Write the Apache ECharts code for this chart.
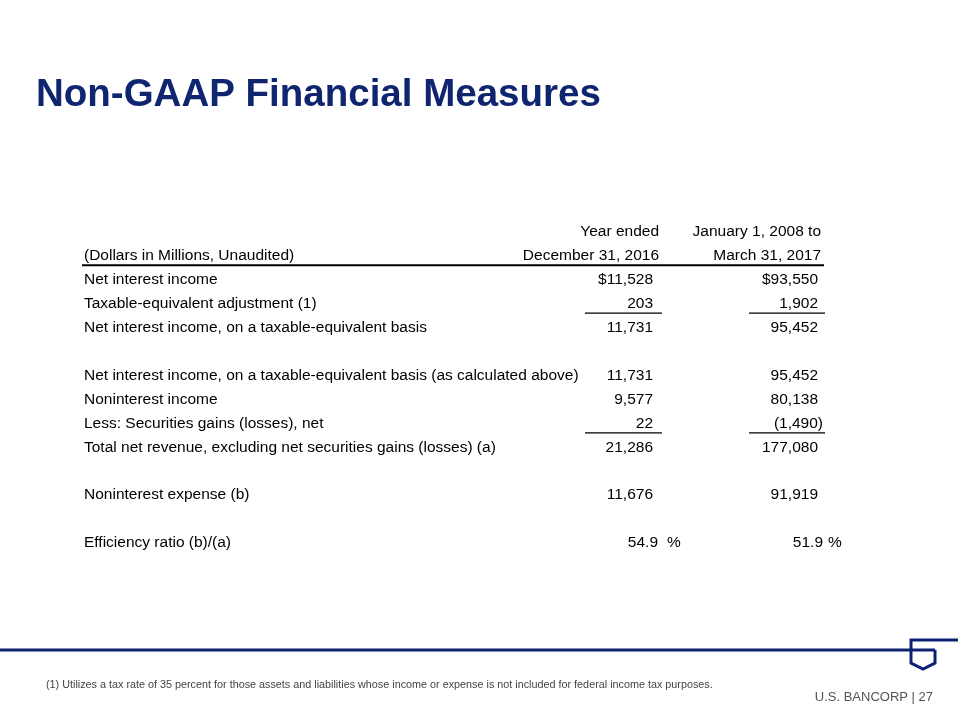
<!DOCTYPE html>
<html>
<head>
<meta charset="utf-8">
<script src="https://cdn.jsdelivr.net/npm/echarts@6/dist/echarts.min.js"></script>
<style>
  html, body { margin: 0; padding: 0; background: #fff; }
  #chart { width: 960px; height: 720px; }
</style>
</head>
<body>
<div id="chart"></div>
<script>
// table data
var headerTop = ['', 'Year ended', 'January 1, 2008 to']
var headerBottom = ['(Dollars in Millions, Unaudited)', 'December 31, 2016', 'March 31, 2017']
var rowLabels = [
  'Net interest income',
  'Taxable-equivalent adjustment (1)',
  'Net interest income, on a taxable-equivalent basis',
  '',
  'Net interest income, on a taxable-equivalent basis (as calculated above)',
  'Noninterest income',
  'Less: Securities gains (losses), net',
  'Total net revenue, excluding net securities gains (losses) (a)',
  '',
  'Noninterest expense (b)',
  '',
  'Efficiency ratio (b)/(a)'
]
var yearEnded2016 = [11528, 203, 11731, null, 11731, 9577, 22, 21286, null, 11676, null, 54.9]
var jan2008ToMar2017 = [93550, 1902, 95452, null, 95452, 80138, -1490, 177080, null, 91919, null, 51.9]
var dollarRows = [0]
var percentRows = [11]
var subtotalRows = [2, 7]
var footnote = '(1) Utilizes a tax rate of 35 percent for those assets and liabilities whose income or expense is not included for federal income tax purposes.'

// layout
var FAMILY = 'Liberation Sans'
var labelX = 84
var colRight = [653, 818]
var headRight = [659, 821]
var ruleX = [[585, 662], [749, 825]]
var pctGap = [9, 5]
var headRows = 2

function fmt (v, i) {
  var s = Math.abs(v).toLocaleString('en-US', { minimumFractionDigits: percentRows.indexOf(i) >= 0 ? 1 : 0 })
  if (dollarRows.indexOf(i) >= 0) s = '$' + s
  if (v < 0) s = '(' + s + ')'
  return s
}

var cells = []
var rowKeys = []
for (var r = 0; r < headRows + rowLabels.length; r++) rowKeys.push(String(r))

cells.push({ x: headRight[0], row: 0, text: headerTop[1], align: 'right' })
cells.push({ x: headRight[1], row: 0, text: headerTop[2], align: 'right' })
cells.push({ x: labelX, row: 1, text: headerBottom[0], align: 'left' })
cells.push({ x: headRight[0], row: 1, text: headerBottom[1], align: 'right' })
cells.push({ x: headRight[1], row: 1, text: headerBottom[2], align: 'right' })

var cols = [yearEnded2016, jan2008ToMar2017]
rowLabels.forEach(function (lab, i) {
  var row = i + headRows
  if (lab) cells.push({ x: labelX, row: row, text: lab, align: 'left' })
  cols.forEach(function (col, c) {
    var v = col[i]
    if (v === null) return
    var pct = percentRows.indexOf(i) >= 0
    var x = colRight[c] + ((v < 0 || pct) ? 5 : 0)
    cells.push({ x: x, row: row, text: fmt(v, i), align: 'right' })
    if (pct) cells.push({ x: x + pctGap[c], row: row, text: '%', align: 'left' })
  })
})

var rules = [{ x1: 82, x2: 824, row: headRows, w: 2 }]
subtotalRows.forEach(function (i) {
  ruleX.forEach(function (rx) {
    rules.push({ x1: rx[0], x2: rx[1], row: i + headRows, w: 1.3 })
  })
})

var chart = echarts.init(document.getElementById('chart'))
chart.setOption({
  animation: false,
  backgroundColor: '#fff',
  grid: { left: 0, right: 0, top: 220, height: 335 },
  xAxis: { type: 'value', min: 0, max: 960, show: false },
  yAxis: { type: 'category', data: rowKeys, inverse: true, show: false },
  graphic: [
    {
      type: 'text', left: 36, top: 76,
      style: { text: 'Non-GAAP Financial Measures', fontSize: 38.5, fontWeight: 'bold', fontFamily: FAMILY, fill: '#102570' }
    },
    {
      type: 'line', shape: { x1: 0, y1: 650, x2: 935, y2: 650 },
      style: { stroke: '#0d2173', lineWidth: 3 }
    },
    {
      type: 'polyline', shape: { points: [[958, 640], [911, 640], [911, 663], [923, 669], [935, 663], [935, 650]] },
      style: { stroke: '#0d2173', lineWidth: 3, fill: null }
    },
    {
      type: 'text', left: 46, top: 680,
      style: { text: footnote, fontSize: 10.8, fontFamily: FAMILY, fill: '#444' }
    },
    {
      type: 'text', right: 27, top: 691,
      style: { text: 'U.S. BANCORP | 27', fontSize: 13, fontFamily: FAMILY, fill: '#555' }
    }
  ],
  series: [
    {
      type: 'custom',
      silent: true,
      data: cells.map(function (c) { return [c.x, c.row] }),
      renderItem: function (params, api) {
        var c = cells[params.dataIndex]
        var p = api.coord([c.x, c.row])
        return {
          type: 'text',
          x: p[0],
          y: p[1],
          style: { text: c.text, textAlign: c.align, textVerticalAlign: 'middle', fill: '#000', fontSize: 15.5, fontFamily: FAMILY }
        }
      }
    },
    {
      type: 'custom',
      silent: true,
      data: rules.map(function (r) { return [r.x1, r.row] }),
      renderItem: function (params, api) {
        var r = rules[params.dataIndex]
        var a = api.coord([r.x1, r.row])
        var b = api.coord([r.x2, r.row])
        var y = a[1] - api.size([0, 1])[1] / 2 - 2.5
        return {
          type: 'line',
          shape: { x1: a[0], y1: y, x2: b[0], y2: y },
          style: { stroke: '#000', lineWidth: r.w }
        }
      }
    }
  ]
})
</script>
</body>
</html>
